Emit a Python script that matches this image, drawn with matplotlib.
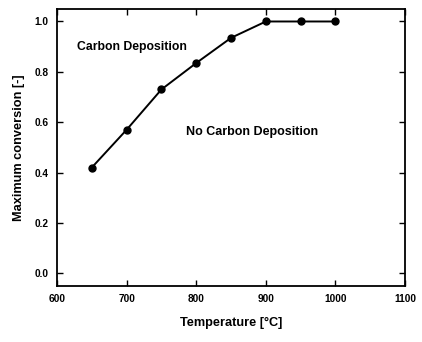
import matplotlib
matplotlib.use("Agg")
import matplotlib.pyplot as plt

# Maximale omsætning vs. temperatur
temperatur = [650, 700, 750, 800, 850, 900, 950, 1000]
max_omsaetning = [0.42, 0.57, 0.73, 0.835, 0.935, 1.0, 1.0, 1.0]

x_ticks = [600, 700, 800, 900, 1000, 1100]
y_ticks = [0.0, 0.2, 0.4, 0.6, 0.8, 1.0]

plt.rcParams["font.family"] = ["Liberation Sans", "DejaVu Sans"]
plt.rcParams["font.weight"] = "bold"

fig = plt.figure(figsize=(4.22, 3.42), dpi=100)
ax = fig.add_axes([0.135, 0.164, 0.825, 0.81])

ax.plot(temperatur, max_omsaetning, color="black", linewidth=1.4,
        marker="o", markersize=5)

ax.set_xlim(600, 1100)
ax.set_ylim(-0.05, 1.05)
ax.set_xticks(x_ticks)
ax.set_yticks(y_ticks)
ax.set_yticklabels([f"{v:.1f}" for v in y_ticks])
ax.tick_params(direction="in", top=True, right=True, length=4, width=1,
               labelsize=7.3, pad=6)
for sp in ax.spines.values():
    sp.set_linewidth(1.3)

ax.set_xlabel("Temperature [°C]", fontsize=9.2, fontweight="bold", labelpad=9)
ax.set_ylabel("Maximum conversion [-]", fontsize=9.2, fontweight="bold", labelpad=7)

ax.text(629, 0.897, "Carbon Deposition", fontsize=8.8, fontweight="bold",
        va="center", ha="left")
ax.text(785, 0.56, "No Carbon Deposition", fontsize=9, fontweight="bold",
        va="center", ha="left")

fig.savefig("out.png", dpi=100)
